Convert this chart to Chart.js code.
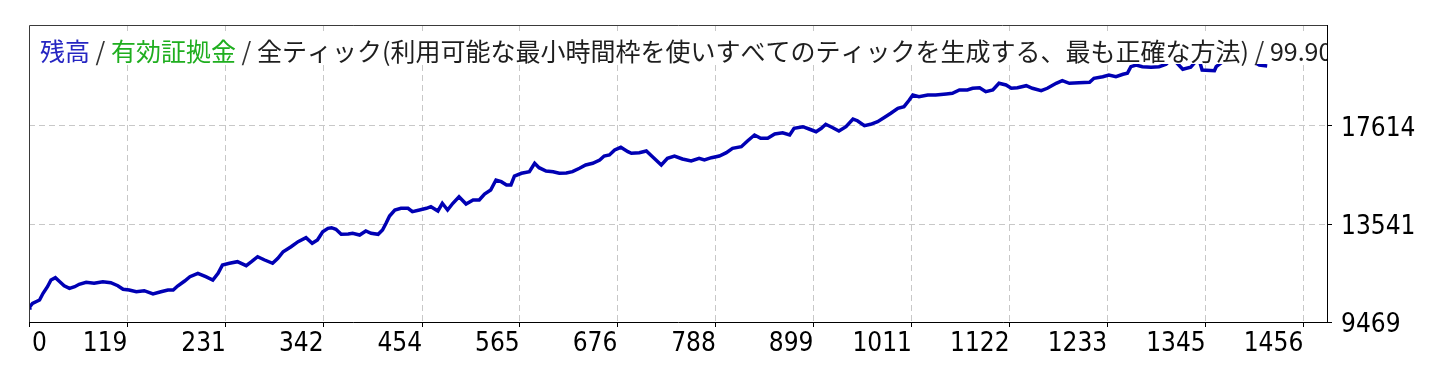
<!DOCTYPE html>
<html><head><meta charset="utf-8">
<script src="https://cdn.jsdelivr.net/npm/chart.js@4/dist/chart.umd.min.js"></script>
<style>html,body{margin:0;padding:0;background:#fff;}#wrap{width:1438px;height:383px;}</style>
</head><body><div id="wrap"><canvas id="c" width="1438" height="383"></canvas></div>
<script>
// ---- data ----
const tradeIndex = [7,8,11,19,23,28,32,37,42,47,53,59,64,72,81,91,100,108,114,121,129,138,148,157,165,171,176,184,190,199,208,216,222,227,235,244,254,260,267,275,284,290,296,305,313,322,329,335,341,347,351,356,362,370,375,383,390,396,404,409,413,417,423,430,438,443,451,459,464,472,477,483,489,496,504,512,519,525,532,538,544,550,555,559,567,576,582,587,595,603,610,618,625,633,640,648,656,661,667,673,680,688,692,701,709,716,726,733,741,750,760,769,775,783,792,800,807,817,824,832,839,847,855,864,872,877,887,894,902,908,913,921,928,936,944,949,957,964,972,980,987,995,1002,1008,1012,1019,1029,1038,1050,1057,1065,1074,1080,1088,1095,1103,1110,1118,1124,1131,1141,1148,1158,1165,1175,1182,1190,1201,1213,1218,1228,1235,1243,1251,1256,1260,1266,1273,1283,1292,1300,1307,1319,1328,1337,1341,1355,1357,1370,1389,1406,1415];
const balance = [10050,10105,10246,10383,10662,10936,11214,11310,11144,10977,10869,10936,11036,11119,11077,11144,11102,10977,10828,10799,10728,10770,10633,10728,10799,10799,10965,11173,11351,11493,11351,11214,11493,11838,11908,11975,11809,11975,12183,12045,11908,12116,12390,12598,12806,12972,12739,12877,13222,13363,13388,13321,13113,13126,13155,13084,13251,13155,13113,13292,13571,13874,14123,14194,14194,14053,14123,14194,14260,14082,14402,14123,14402,14676,14373,14539,14539,14788,14954,15370,15299,15162,15162,15536,15648,15715,16064,15881,15744,15715,15648,15660,15715,15856,15993,16064,16201,16367,16409,16617,16729,16546,16480,16504,16575,16338,15993,16272,16367,16243,16160,16272,16201,16297,16367,16504,16687,16754,16991,17240,17103,17103,17282,17335,17240,17518,17585,17489,17377,17518,17685,17543,17406,17585,17905,17834,17626,17685,17793,17975,18142,18350,18416,18694,18902,18832,18902,18902,18944,18973,19110,19110,19181,19206,19039,19110,19388,19318,19181,19206,19289,19181,19081,19181,19388,19497,19388,19413,19430,19596,19663,19733,19663,19762,19804,20078,20149,20078,20053,20078,20178,20440,19970,20053,20440,19941,19912,20078,20440,20523,20149,20107];
const xTickLabels = [0,119,231,342,454,565,676,788,899,1011,1122,1233,1345,1456];
const yTickLabels = [9469,13541,17614];
const xRange = [7, 1483];
const yRange = [9469, 21811];
const titleTexts = ["残高", " / ", "有効証拠金", " / ", "全ティック(利用可能な最小時間枠を使いすべてのティックを生成する、最も正確な方法)", " / ", "99.90%"];

// ---- styles ----
const titleColors = ["#2626c2", "#333333", "#1fae1f", "#333333", "#1e1e1e", "#333333", "#1e1e1e"];
const AXIS_FONT = {family: "'DejaVu Sans Condensed','DejaVu Sans',sans-serif", size: 26};
const TITLE_FONT = "25px 'Noto Sans CJK JP','Noto Sans CJK SC',sans-serif";
const GRID = '#c8c8c8';
const X_TICK_LEN = 5, X_TICK_PAD = 2;

const points = tradeIndex.map((x, i) => ({x: x, y: balance[i]}));

const framePlugin = {
  id: 'frame',
  afterDatasetsDraw(chart) {
    const a = chart.chartArea, ctx = chart.ctx;
    ctx.save();
    ctx.beginPath();
    ctx.rect(a.left, a.top, a.right - a.left, a.bottom - a.top);
    ctx.clip();
    ctx.font = TITLE_FONT;
    ctx.textBaseline = 'alphabetic';
    ctx.textAlign = 'left';
    let total = 0;
    titleTexts.forEach(t => total += ctx.measureText(t).width);
    const x0 = a.left + 11, base = a.top + 36;
    ctx.fillStyle = '#ffffff';
    ctx.fillRect(x0 - 3, a.top + 6, total + 6, 33);
    let x = x0;
    titleTexts.forEach((t, i) => {
      ctx.fillStyle = titleColors[i];
      ctx.fillText(t, x, base);
      x += ctx.measureText(t).width;
    });
    ctx.restore();
  },
  afterDraw(chart) {
    const a = chart.chartArea, ctx = chart.ctx;
    ctx.save();
    ctx.strokeStyle = '#3a3a3a';
    ctx.lineWidth = 1;
    ctx.beginPath();
    ctx.moveTo(a.left + 0.5, a.bottom);
    ctx.lineTo(a.left + 0.5, a.top + 0.5);
    ctx.lineTo(a.right, a.top + 0.5);
    ctx.stroke();
    // first x label (left-aligned at the axis start)
    const xs = chart.scales.x;
    const y = xs.top + X_TICK_LEN + X_TICK_PAD + AXIS_FONT.size * 0.6;
    ctx.font = AXIS_FONT.size + "px " + AXIS_FONT.family;
    ctx.fillStyle = '#000';
    ctx.textAlign = 'left';
    ctx.textBaseline = 'middle';
    ctx.fillText(String(xTickLabels[0]), xs.getPixelForValue(xs.min) + 3, y);
    ctx.restore();
  }
};

new Chart(document.getElementById('c'), {
  type: 'line',
  data: {
    datasets: [{
      label: '残高',
      data: points,
      borderColor: '#0000b4',
      borderWidth: 3.5,
      pointRadius: 0,
      tension: 0,
      fill: false
    }]
  },
  options: {
    responsive: false,
    animation: false,
    devicePixelRatio: 1,
    layout: {padding: {left: 29, top: 25, right: 0, bottom: 0}},
    plugins: {legend: {display: false}, tooltip: {enabled: false}, title: {display: false}},
    scales: {
      x: {
        type: 'linear',
        position: 'bottom',
        min: xRange[0],
        max: xRange[1],
        afterBuildTicks: s => { s.ticks = xTickLabels.map(v => ({value: Math.max(v, xRange[0]), label: String(v)})); },
        afterFit: s => { s.height = 61; },
        ticks: {
          autoSkip: false,
          maxRotation: 0,
          align: 'end',
          padding: X_TICK_PAD,
          font: AXIS_FONT,
          color: c => c.index === 0 ? 'rgba(0,0,0,0)' : '#000',
          callback: (v, i) => String(xTickLabels[i])
        },
        grid: {
          color: c => c.index === 0 ? 'rgba(0,0,0,0)' : GRID,
          lineWidth: 1,
          tickLength: X_TICK_LEN,
          tickColor: '#000',
          tickBorderDash: [],
          drawTicks: true
        },
        border: {display: true, color: '#000', width: 1, dash: [6, 4]}
      },
      y: {
        type: 'linear',
        position: 'right',
        min: yRange[0],
        max: yRange[1],
        afterBuildTicks: s => { s.ticks = yTickLabels.map(v => ({value: v})); },
        afterFit: s => { s.width = 111; },
        ticks: {
          autoSkip: false,
          padding: 9,
          labelOffset: 3,
          font: AXIS_FONT,
          color: '#000',
          callback: v => String(v)
        },
        grid: {
          color: c => c.index === 0 ? 'rgba(0,0,0,0)' : GRID,
          lineWidth: 1,
          tickLength: 5,
          tickColor: '#000',
          tickBorderDash: []
        },
        border: {display: true, color: '#000', width: 1, dash: [6, 4]}
      }
    }
  },
  plugins: [framePlugin]
});
</script>
</body></html>
